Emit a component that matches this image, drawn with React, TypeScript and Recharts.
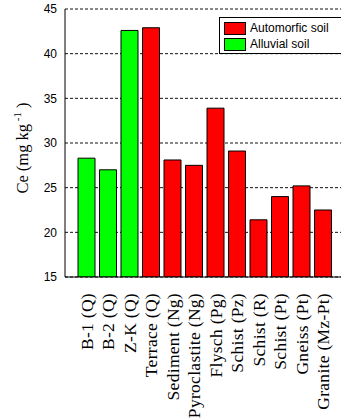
import React from "react";
import { Bar, BarChart, CartesianGrid, Cell, Label, XAxis, YAxis } from "recharts";

const categories = [
  "B-1 (Q)",
  "B-2 (Q)",
  "Z-K (Q)",
  "Terrace (Q)",
  "Sediment (Ng)",
  "Pyroclastite (Ng)",
  "Flysch (Pg)",
  "Schist (Pz)",
  "Schist (R)",
  "Schist (Pt)",
  "Gneiss (Pt)",
  "Granite (Mz-Pt)",
];
const ceValues = [28.3, 27.0, 42.6, 42.9, 28.1, 27.5, 33.9, 29.1, 21.4, 24.0, 25.2, 22.5];
const soilTypes = [
  "alluvial", "alluvial", "alluvial",
  "automorfic", "automorfic", "automorfic", "automorfic", "automorfic",
  "automorfic", "automorfic", "automorfic", "automorfic",
];
const yTicks = [15, 20, 25, 30, 35, 40, 45];
const legendItems = [
  { key: "automorfic", label: "Automorfic soil" },
  { key: "alluvial", label: "Alluvial soil" },
];

const soilColors: Record<string, string> = {
  automorfic: "#ff0000",
  alluvial: "#00ff00",
};

const data = categories.map((name, i) => ({ name, ce: ceValues[i], soil: soilTypes[i] }));

const SANS = "'Liberation Sans', Arial, sans-serif";
const SERIF = "'Liberation Serif', 'Times New Roman', serif";

function CategoryTick(props: any) {
  const { x, y, payload } = props;
  return (
    <text
      x={x}
      y={y + 8}
      transform={`rotate(-90, ${x}, ${y + 8})`}
      textAnchor="end"
      dy="0.33em"
      fontFamily={SERIF}
      fontSize={17.5}
      letterSpacing={0.3}
      fill="#000"
    >
      {payload.value}
    </text>
  );
}

function YTitle(props: any) {
  const { viewBox } = props;
  const cy = viewBox.y + viewBox.height / 2 + 5;
  const cx = 22;
  return (
    <text
      x={cx}
      y={cy}
      transform={`rotate(-90, ${cx}, ${cy})`}
      textAnchor="middle"
      dy="0.35em"
      fontFamily={SERIF}
      fontSize={16.5}
      fill="#000"
    >
      Ce (mg kg
      <tspan fontSize={11} dy={-7}> -1</tspan>
      <tspan dy={7}> )</tspan>
    </text>
  );
}

function SoilLegend() {
  return (
    <div
      style={{
        position: "absolute",
        left: 219,
        top: 17,
        border: "1px solid #000",
        background: "#fff",
        width: 120,
        padding: "2px 0 1px 4px",
        fontFamily: SANS,
        fontSize: 12,
        lineHeight: "16px",
      }}
    >
      {legendItems.map((item) => (
        <div key={item.key} style={{ display: "flex", alignItems: "center", height: 16 }}>
          <span
            style={{
              display: "inline-block",
              width: 20,
              height: 11,
              background: soilColors[item.key],
              border: "1px solid #000",
              marginRight: 4,
            }}
          />
          <span>{item.label}</span>
        </div>
      ))}
    </div>
  );
}

export default function App() {
  return (
    <div style={{ position: "absolute", left: 0, top: 0, width: 341, height: 418, overflow: "hidden", background: "#fff" }}>
      <BarChart
        width={350}
        height={418}
        data={data}
        margin={{ top: 9, right: 5, left: 0, bottom: 0 }}
        barSize={17}
      >
        <CartesianGrid vertical={false} stroke="#111" strokeDasharray="3 2" />
        <XAxis
          dataKey="name"
          height={141}
          padding={{ left: 11, right: 11 }}
          interval={0}
          tick={<CategoryTick />}
          tickLine={false}
          axisLine={{ stroke: "#000" }}
        />
        <XAxis
          xAxisId="top"
          orientation="top"
          dataKey="name"
          height={0}
          tick={false}
          tickLine={false}
          axisLine={{ stroke: "#000" }}
        />
        <YAxis
          width={65}
          domain={[15, 45]}
          ticks={yTicks}
          allowDataOverflow
          tickLine={false}
          axisLine={{ stroke: "#000" }}
          tick={{ fill: "#000", fontFamily: SANS, fontSize: 12 }}
        >
          <Label content={<YTitle />} />
        </YAxis>
        <Bar dataKey="ce" stroke="#000" strokeWidth={1} isAnimationActive={false}>
          {data.map((d) => (
            <Cell key={d.name} fill={soilColors[d.soil]} />
          ))}
        </Bar>
      </BarChart>
      <SoilLegend />
    </div>
  );
}
